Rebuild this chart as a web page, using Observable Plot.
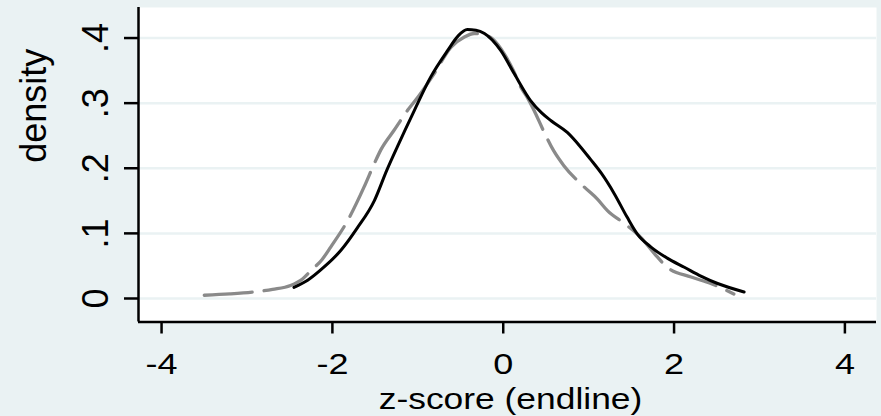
<!DOCTYPE html>
<html>
<head>
<meta charset="utf-8">
<script src="https://cdn.jsdelivr.net/npm/d3@7"></script>
<script src="https://cdn.jsdelivr.net/npm/@observablehq/plot@0.6"></script>
<style>
  html, body { margin: 0; padding: 0; background: #EAF2F3; }
  svg { display: block; }
</style>
</head>
<body>
<script>
// z-score values and density estimates
const endlineX = [-2.45,-2.29,-2.10,-1.90,-1.71,-1.51,-1.36,-1.24,-1.04,-0.85,-0.65,-0.53,-0.42,-0.32,-0.22,-0.03,0.13,0.32,0.45,0.56,0.75,0.91,1.02,1.15,1.30,1.45,1.57,1.73,1.92,2.12,2.32,2.51,2.82];
const endlineY = [0.017,0.028,0.048,0.074,0.108,0.150,0.198,0.233,0.289,0.340,0.381,0.403,0.413,0.412,0.407,0.381,0.345,0.304,0.285,0.273,0.255,0.232,0.214,0.192,0.161,0.125,0.099,0.079,0.062,0.048,0.034,0.023,0.010];

const compareX = [-3.50,-3.20,-2.92,-2.70,-2.49,-2.35,-2.25,-2.12,-2.02,-1.82,-1.63,-1.51,-1.43,-1.28,-1.12,-1.00,-0.81,-0.61,-0.45,-0.34,-0.22,-0.12,0.01,0.12,0.20,0.28,0.36,0.47,0.59,0.71,0.95,1.10,1.22,1.42,1.61,1.77,1.92,2.20,2.43,2.70];
const compareY = [0.005,0.007,0.010,0.014,0.020,0.030,0.043,0.060,0.079,0.120,0.171,0.207,0.229,0.258,0.289,0.309,0.345,0.386,0.402,0.407,0.405,0.398,0.376,0.350,0.326,0.309,0.289,0.258,0.227,0.204,0.171,0.153,0.135,0.115,0.094,0.069,0.048,0.033,0.023,0.007];

const xTicks = [-4, -2, 0, 2, 4];
const xTickLabels = ["-4", "-2", "0", "2", "4"];
const yTicks = [0, 0.1, 0.2, 0.3, 0.4];
const yTickLabels = ["0", ".1", ".2", ".3", ".4"];
const xDomain = [-4.27, 4.37];
const yDomain = [-0.0361, 0.4469];
const xTitle = "z-score (endline)";
const yTitle = "density";

const endline = endlineX.map((x, i) => ({x, y: endlineY[i]}));
const compare = compareX.map((x, i) => ({x, y: compareY[i]}));

const BG = "#EAF2F3";
const FONT = "'Liberation Sans', Arial, Helvetica, sans-serif";

const chart = Plot.plot({
  width: 881,
  height: 416,
  marginLeft: 138,
  marginRight: 5,
  marginTop: 7,
  marginBottom: 94.5,
  style: {background: BG, fontFamily: FONT, color: "black", overflow: "visible"},
  x: {domain: xDomain},
  y: {domain: yDomain},
  marks: [
    Plot.frame({fill: "white", stroke: null}),
    Plot.gridY(yTicks, {stroke: BG, strokeOpacity: 1, strokeWidth: 2.5}),
    Plot.line(compare, {x: "x", y: "y", stroke: "#8a8a8a", strokeWidth: 3.3, strokeDasharray: "48,12", curve: "monotone-x"}),
    Plot.line(endline, {x: "x", y: "y", stroke: "#000", strokeWidth: 3, curve: "monotone-x"}),
    Plot.ruleX([xDomain[0]], {stroke: "black", strokeWidth: 2.5}),
    Plot.ruleY([yDomain[0]], {stroke: "black", strokeWidth: 2.5}),
    Plot.axisY(yTicks, {
      tickFormat: d => yTickLabels[yTicks.indexOf(d)],
      tickRotate: -90, tickSize: 14, tickPadding: 17, strokeWidth: 2.5,
      fontSize: 36, label: null, fill: "black"
    }),
    Plot.axisX(xTicks, {
      tickFormat: d => xTickLabels[xTicks.indexOf(d)],
      tickSize: 12, tickPadding: 18.5, strokeWidth: 2.5,
      fontSize: 30, label: null, fill: "black"
    }),
    Plot.text([xTitle], {frameAnchor: "bottom", dx: 3, dy: 77.2, lineAnchor: "middle", fontSize: 30, fill: "black"}),
    Plot.text([yTitle], {frameAnchor: "left", rotate: -90, dx: -104, dy: -2, lineAnchor: "middle", fontSize: 36, fill: "black"})
  ]
});

document.body.append(chart);

// horizontal glyph stretch of x-axis texts, as in the reference
function stretchText(t, k) {
  const len = t.getComputedTextLength();
  t.setAttribute("textLength", (len * k).toFixed(2));
  t.setAttribute("lengthAdjust", "spacingAndGlyphs");
}
chart.querySelectorAll('[aria-label="x-axis tick label"] text').forEach(t => stretchText(t, 1.2));
chart.querySelectorAll("text").forEach(t => { if (t.textContent === xTitle) stretchText(t, 1.18); });
</script>
</body>
</html>
